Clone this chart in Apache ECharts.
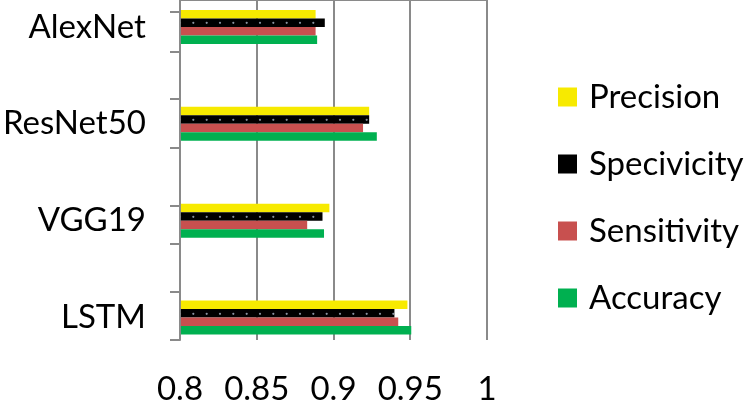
<!DOCTYPE html>
<html>
<head>
<meta charset="utf-8">
<script src="https://cdn.jsdelivr.net/npm/echarts@6/dist/echarts.min.js"></script>
<style>
html,body{margin:0;padding:0;background:#fff;}
#chart{width:750px;height:406px;}
</style>
</head>
<body>
<div id="chart"></div>
<script>
// Data (top to bottom as in the picture)
const categories = ['AlexNet', 'ResNet50', 'VGG19', 'LSTM'];
const seriesNames = ['Precision', 'Specivicity', 'Sensitivity', 'Accuracy'];
const precision   = [0.888, 0.923, 0.897, 0.948];
const specivicity = [0.894, 0.923, 0.8925, 0.9395];
const sensitivity = [0.888, 0.919, 0.8825, 0.942];
const accuracy    = [0.889, 0.928, 0.8935, 0.9505];
const xTicks = { min: 0.8, max: 1, interval: 0.05 };
// positions of the small tick marks on the left axis (in the axis' own units, 0 = top)
const leftTickMarks = [12, 52, 99, 149, 207, 245, 293, 342];

const FONT = 'Lato';
const GRAY = '#8a8a8a';

// dotted black fill for Specivicity
function dotPattern() {
  const c = document.createElement('canvas');
  c.width = 40; c.height = 97;
  const g = c.getContext('2d');
  g.fillStyle = '#000';
  g.fillRect(0, 0, 40, 97);
  g.fillStyle = '#8a93a0';
  [6.7, 20, 33.3].forEach(function (x) {
    g.beginPath();
    g.arc(x, 22.8, 1.1, 0, Math.PI * 2);
    g.fill();
  });
  return c;
}

const colors = {
  Precision: '#f7ea00',
  Specivicity: { image: dotPattern(), repeat: 'repeat' },
  Sensitivity: '#c8504f',
  Accuracy: '#00b050'
};
const values = {
  Precision: precision,
  Specivicity: specivicity,
  Sensitivity: sensitivity,
  Accuracy: accuracy
};

const chart = echarts.init(document.getElementById('chart'), null, { renderer: 'canvas' });
const option = {
  animation: false,
  backgroundColor: '#fff',
  grid: [
    // bars grid: first and last category sit on the grid edges
    { left: 180, right: 263, top: 27, bottom: 88.5, containLabel: false },
    // axes grid
    { left: 180, right: 263, top: 0, bottom: 64, containLabel: false }
  ],
  xAxis: [
    { gridIndex: 0, type: 'value', min: xTicks.min, max: xTicks.max, interval: xTicks.interval, show: false },
    {
      gridIndex: 1, type: 'value', min: xTicks.min, max: xTicks.max, interval: xTicks.interval,
      axisLine: { show: true, lineStyle: { color: GRAY, width: 2 } },
      axisTick: { show: true, length: 12, lineStyle: { color: GRAY, width: 2 } },
      splitLine: { show: true, lineStyle: { color: GRAY, width: 2 } },
      axisLabel: { fontFamily: FONT, fontSize: 33, color: '#000', margin: 33 }
    }
  ],
  yAxis: [
    {
      gridIndex: 0, type: 'category', data: categories, inverse: true, boundaryGap: false,
      axisLine: { show: false }, axisTick: { show: false }, splitLine: { show: false },
      axisLabel: { fontFamily: FONT, fontSize: 33, color: '#000', margin: 35 }
    },
    {
      gridIndex: 1, type: 'value', min: 0, max: 342, inverse: true,
      axisLine: { show: true, lineStyle: { color: GRAY, width: 2 } },
      axisTick: { show: true, length: 10, customValues: leftTickMarks, lineStyle: { color: GRAY, width: 2 } },
      axisLabel: { show: false },
      splitLine: { show: false }
    }
  ],
  legend: {
    orient: 'vertical',
    left: 553,
    top: 72,
    itemWidth: 19,
    itemHeight: 19,
    itemGap: 27,
    icon: 'rect',
    data: seriesNames,
    textStyle: { fontFamily: FONT, fontSize: 33, color: '#000', lineHeight: 40, padding: [0, 0, 0, 7] }
  },
  series: seriesNames.map(function (name) {
    return {
      name: name,
      type: 'bar',
      xAxisIndex: 0,
      yAxisIndex: 0,
      data: values[name],
      barWidth: 8.5,
      barGap: '0%',
      itemStyle: { color: colors[name] },
      emphasis: { disabled: true }
    };
  })
};
chart.setOption(option);
</script>
</body>
</html>
